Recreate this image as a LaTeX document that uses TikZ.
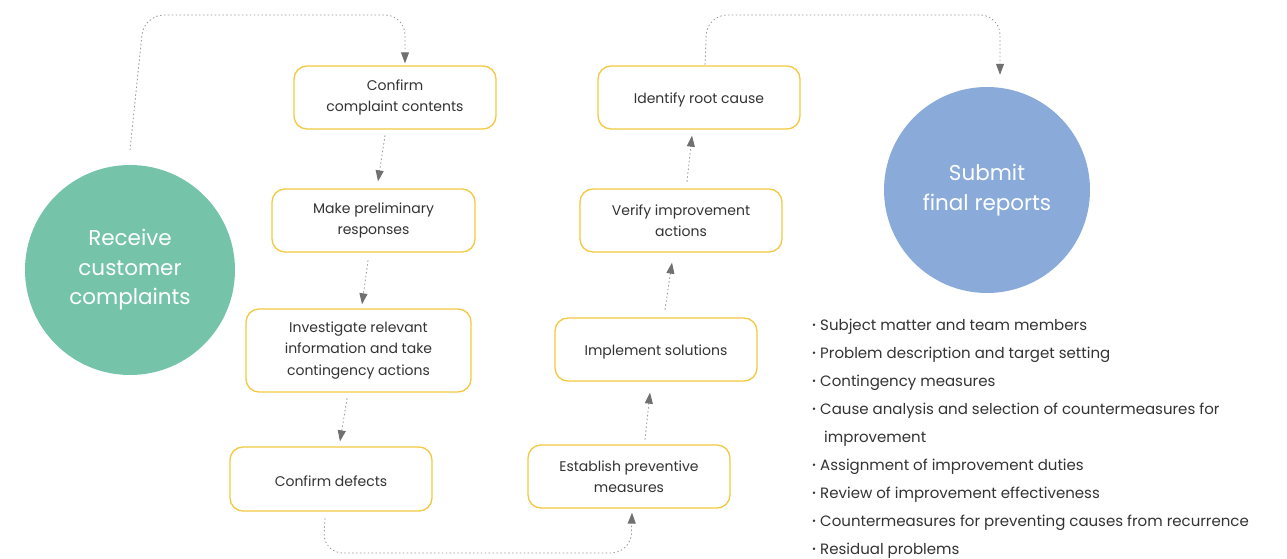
\documentclass[tikz,border=0pt]{standalone}
\usepackage{fontspec}
\setmainfont{Poppins}
\usepackage{tikz}
\usetikzlibrary{arrows.meta, positioning, calc}

\definecolor{stepgreen}{HTML}{75C4AA}
\definecolor{stepblue}{HTML}{8AABDA}
\definecolor{boxline}{HTML}{F2C940}
\definecolor{txtgray}{HTML}{333333}
\definecolor{linkgray}{HTML}{9A9A9A}
\definecolor{tipgray}{HTML}{707070}

\newcommand{\rptdot}{\raisebox{0.25ex}{\scalebox{0.65}{\textbullet}}}

\begin{document}
\begin{tikzpicture}[
    x=1pt, y=1pt,
    bigcirc/.style={
        circle, inner sep=0pt,
        text=white,
        align=center,
        font=\fontsize{21.5}{29.5}\selectfont
    },
    stepbox/.style={
        draw=boxline, line width=1.3pt,
        rounded corners=13pt,
        fill=white,
        minimum width=202pt,
        minimum height=63pt,
        align=center,
        text=txtgray,
        font=\fontsize{14}{21.5}\selectfont,
        execute at begin node={\rule{0pt}{15pt}}
    },
    link/.style={
        draw=linkgray, line width=0.9pt,
        dash pattern=on 0.9pt off 3pt,
        line cap=round,
        -{Triangle[length=11pt, width=8pt, fill=tipgray, color=tipgray]}
    },
    reportlist/.style={
        anchor=north west, inner sep=0pt,
        align=left,
        text=txtgray,
        font=\fontsize{15}{28}\selectfont
    }
]
\useasboundingbox (0,0) rectangle (1287,559);

% Start and end circles
\node[bigcirc, fill=stepgreen, minimum size=210pt] (green) at (130,289)
    {Receive\\customer\\complaints};
\node[bigcirc, fill=stepblue, minimum size=206pt] (blue) at (987,369)
    {Submit\\final reports};

% ------- Left column (going down) -------
\node[stepbox] (b1) at (395,461.5) {Confirm\\complaint contents};
\node[stepbox, minimum width=203pt] (b2) at (373.5,338.5)
    {Make preliminary\\responses};
\node[stepbox, minimum width=225pt, minimum height=83pt] (b3) at (358.5,208.5)
    {Investigate relevant\\information and take\\contingency actions};
\node[stepbox, minimum height=64pt] (b4) at (331,80) {Confirm defects};

% ------- Right column (going up) -------
\node[stepbox] (b5) at (629,82.5) {Establish preventive\\measures};
\node[stepbox] (b6) at (656,209.5) {Implement solutions};
\node[stepbox] (b7) at (681,338.5) {Verify improvement\\actions};
\node[stepbox] (b8) at (699,461.5) {Identify root cause};

% Report contents
\node[reportlist] (reports) at (812,240) {%
    \rptdot\ Subject matter and team members\\
    \rptdot\ Problem description and target setting\\
    \rptdot\ Contingency measures\\
    \rptdot\ Cause analysis and selection of countermeasures for\\
    \hphantom{\rptdot\ }\hspace{4pt}improvement\\
    \rptdot\ Assignment of improvement duties\\
    \rptdot\ Review of improvement effectiveness\\
    \rptdot\ Countermeasures for preventing causes from recurrence\\
    \rptdot\ Residual problems};

% Rails for the long connectors
\coordinate (toprail) at (0,544);
\coordinate (botrail) at (0,6);

% Long connectors
\draw[link, rounded corners=20pt]
    ([yshift=15pt]green.north) -- ([xshift=14pt]green.north |- toprail)
    -- ([xshift=10pt]b1.north |- toprail) -- ([xshift=10pt,yshift=2pt]b1.north);
\draw[link, rounded corners=20pt]
    ([xshift=-6pt,yshift=-7pt]b4.south) -- ([xshift=-8pt]b4.south |- botrail)
    -- ([xshift=2pt]b5.south |- botrail) -- ([xshift=3pt,yshift=-4pt]b5.south);
\draw[link, rounded corners=20pt]
    ([xshift=6pt,yshift=1pt]b8.north) -- ([xshift=8pt]b8.north |- toprail)
    -- ([xshift=13pt]blue.north |- toprail) -- ([xshift=13pt,yshift=12pt]blue.north);

% Short connectors
\draw[link] ([xshift=-10pt,yshift=-6pt]b1.south) -- ([xshift=4.5pt,yshift=7pt]b2.north);
\draw[link] ([xshift=-5.5pt,yshift=-8pt]b2.south) -- ([xshift=3.5pt,yshift=4pt]b3.north);
\draw[link] ([xshift=-11.5pt,yshift=-6pt]b3.south) -- ([xshift=9pt,yshift=5pt]b4.north);
\draw[link] ([xshift=16pt,yshift=5pt]b5.north) -- ([xshift=-6pt,yshift=-11pt]b6.south);
\draw[link] ([xshift=9pt,yshift=8pt]b6.north) -- ([xshift=-9pt,yshift=-10pt]b7.south);
\draw[link] ([xshift=6pt,yshift=7pt]b7.north) -- ([xshift=-7pt,yshift=-6pt]b8.south);
\end{tikzpicture}
\end{document}
